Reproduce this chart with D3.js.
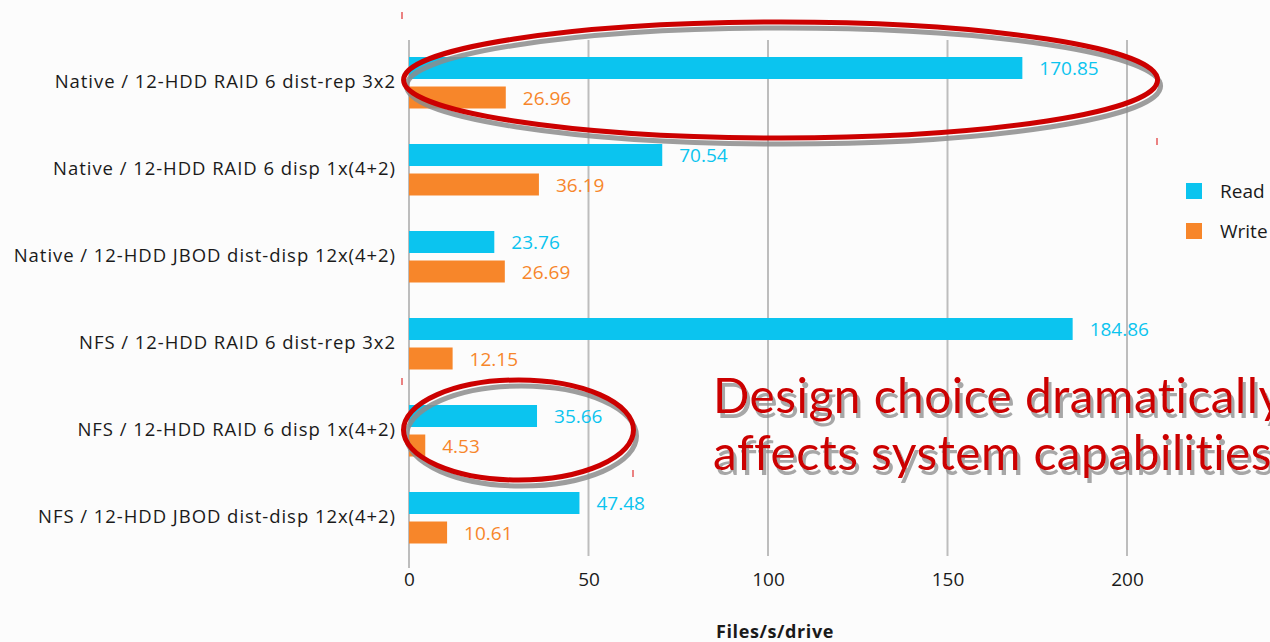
<!DOCTYPE html>
<html><head><meta charset="utf-8">
<script src="https://cdn.jsdelivr.net/npm/d3@7"></script>
<style>
html,body{margin:0;padding:0;background:#fcfcfc;overflow:hidden;}
svg{display:block;}
</style></head>
<body>
<svg id="chart" width="1270" height="642"></svg>
<script>
const categories = [
  "Native / 12-HDD RAID 6 dist-rep 3x2",
  "Native / 12-HDD RAID 6 disp 1x(4+2)",
  "Native / 12-HDD JBOD dist-disp 12x(4+2)",
  "NFS / 12-HDD RAID 6 dist-rep 3x2",
  "NFS / 12-HDD RAID 6 disp 1x(4+2)",
  "NFS / 12-HDD JBOD dist-disp 12x(4+2)"
];
const readValues  = [170.85, 70.54, 23.76, 184.86, 35.66, 47.48];
const writeValues = [26.96, 36.19, 26.69, 12.15, 4.53, 10.61];
const seriesNames = ["Read", "Write"];
const xTicks = [0, 50, 100, 150, 200];
const xAxisTitle = "Files/s/drive";
const annotationLines = ["Design choice dramatically", "affects system capabilities"];

const colors = {Read: "#0bc4ef", Write: "#f7862a"};
const font = "'Open Sans', sans-serif";
const bigFont = "Lato, 'Open Sans', sans-serif";

const svg = d3.select("#chart");
const defs = svg.append("defs");
const sh = defs.append("filter").attr("id", "shadow").attr("x", "-10%").attr("y", "-10%").attr("width", "120%").attr("height", "130%");
sh.append("feDropShadow").attr("dx", 3).attr("dy", 5).attr("stdDeviation", 0.6)
  .attr("flood-color", "#8a8a8a").attr("flood-opacity", 0.75);

const x = d3.scaleLinear().domain([0, 200]).range([409, 1127]);
const y0 = d3.scaleBand().domain(categories).range([38, 560]);

// gridlines
const gridG = svg.append("g");
gridG.selectAll("line").data(xTicks).join("line")
  .attr("x1", d => x(d)).attr("x2", d => x(d))
  .attr("y1", 40).attr("y2", d => d === 0 ? 568 : 556)
  .attr("stroke", "#bdbdbd").attr("stroke-width", 2);

// axis tick labels
const xAxis = d3.axisBottom(x).tickValues(xTicks).tickSize(0).tickPadding(0);
const axG = svg.append("g").attr("transform", "translate(0,572)").call(xAxis);
axG.select(".domain").remove();
axG.selectAll("text").attr("font-family", font).attr("font-size", 19).attr("fill", "#1a1a1a");

svg.append("text").attr("x", 775).attr("y", 638).attr("text-anchor", "middle")
  .attr("font-family", font).attr("font-size", 18).attr("font-weight", "bold")
  .attr("letter-spacing", 0.6).attr("fill", "#1a1a1a").text(xAxisTitle);

// bars
const barH = 22;
const offs = {Read: 19, Write: 48.5};
const data = categories.map((c, i) => ({c, vals: [{s: "Read", v: readValues[i]}, {s: "Write", v: writeValues[i]}]}));
const groups = svg.append("g").selectAll("g").data(data).join("g")
  .attr("transform", d => `translate(0,${y0(d.c)})`);

groups.selectAll("rect").data(d => d.vals).join("rect")
  .attr("x", x(0)).attr("y", d => offs[d.s])
  .attr("width", d => x(d.v) - x(0)).attr("height", barH)
  .attr("fill", d => colors[d.s]);

groups.selectAll("text.val").data(d => d.vals).join("text").attr("class", "val")
  .attr("x", d => x(d.v) + 17).attr("y", d => offs[d.s] + barH / 2 + 7)
  .attr("font-family", font).attr("font-size", 19).attr("fill", d => colors[d.s])
  .text(d => d.v.toFixed(2));

// category labels
svg.append("g").selectAll("text").data(categories).join("text")
  .attr("x", 396).attr("y", d => y0(d) + 50)
  .attr("text-anchor", "end").attr("font-family", font).attr("font-size", 18.5)
  .attr("letter-spacing", 0.95).attr("fill", "#1a1a1a").text(d => d);

// legend
const leg = svg.append("g").selectAll("g").data(seriesNames).join("g")
  .attr("transform", (d, i) => `translate(1186,${183 + i * 40})`);
leg.append("rect").attr("width", 16).attr("height", 16).attr("fill", d => colors[d]);
leg.append("text").attr("x", 34).attr("y", 15).attr("font-family", font).attr("font-size", 19)
  .attr("fill", "#1a1a1a").text(d => d);

// annotation ellipses
const ellipses = [
  {cx: x(103.5), cy: 80, rx: 377, ry: 58},
  {cx: x(30.5), cy: 430, rx: 115, ry: 50}
];
const annG = svg.append("g");
ellipses.forEach(e => {
  annG.append("ellipse").attr("cx", e.cx + 3).attr("cy", e.cy + 6).attr("rx", e.rx).attr("ry", e.ry)
    .attr("fill", "none").attr("stroke", "#8c8c8c").attr("stroke-width", 5).attr("opacity", 0.85);
  annG.append("ellipse").attr("cx", e.cx).attr("cy", e.cy).attr("rx", e.rx).attr("ry", e.ry)
    .attr("fill", "none").attr("stroke", "#cc0000").attr("stroke-width", 5);
});

// small selection marks
const marks = [[402, 12], [1157, 138], [402, 378], [633, 470]];
annG.selectAll("line.mk").data(marks).join("line").attr("class", "mk")
  .attr("x1", d => d[0]).attr("x2", d => d[0]).attr("y1", d => d[1]).attr("y2", d => d[1] + 7)
  .attr("stroke", "#e03030").attr("stroke-width", 1.2);

// annotation text
const txt = annG.append("text").attr("font-family", bigFont).attr("font-size", 48)
  .attr("letter-spacing", 0.4).attr("fill", "#cc0000").attr("filter", "url(#shadow)");
annotationLines.forEach((t, i) => {
  txt.append("tspan").attr("x", 713).attr("y", 413 + i * 57).text(t);
});
</script>
</body></html>
